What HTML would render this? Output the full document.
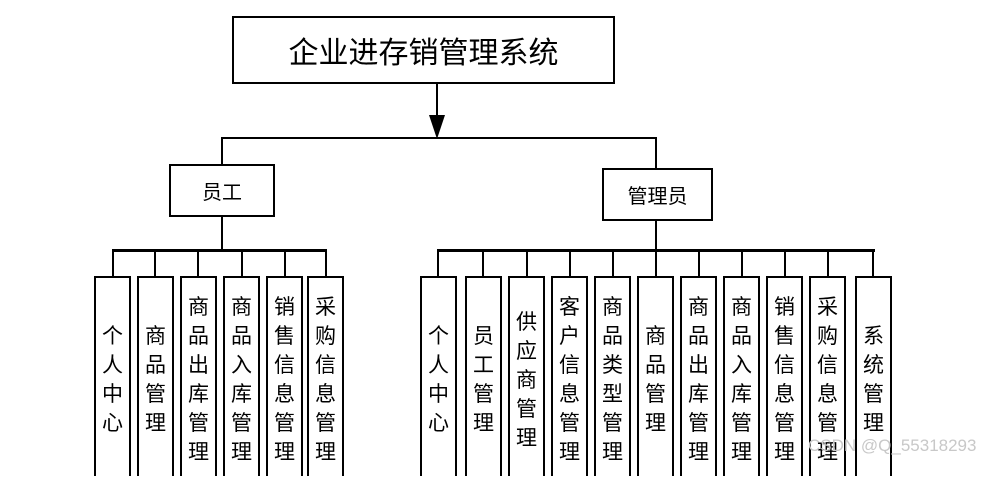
<!DOCTYPE html>
<html><head><meta charset="utf-8"><style>
body{margin:0;width:1003px;height:465px;background:#fff;overflow:hidden;position:relative;font-family:"Liberation Sans","Noto Sans CJK SC",sans-serif;color:#000}
.b{position:absolute;border:2px solid #000;box-sizing:border-box;background:#fff}
.l{position:absolute;background:#000}
.t{position:absolute;display:flex;align-items:center;justify-content:center}
.leaf{position:absolute;top:276px;height:200px;width:37px;border:2px solid #000;box-sizing:border-box;border-bottom:none}
.lt{position:absolute;left:0;width:100%;top:0;height:204px;display:flex;flex-direction:column;align-items:center;justify-content:center;font-size:21px;line-height:29px}
</style></head><body>
<div class="b t" style="left:232px;top:16px;width:383px;height:68px;font-size:30px">企业进存销管理系统</div>
<div class="l" style="left:436px;top:84px;width:2px;height:40px"></div>
<svg style="position:absolute;left:427px;top:115px" width="20" height="25"><polygon points="2,0 18,0 10,24" fill="#000"/></svg>
<div class="l" style="left:221px;top:137px;width:436px;height:2px"></div>
<div class="l" style="left:221px;top:137px;width:2px;height:28px"></div>
<div class="l" style="left:655px;top:137px;width:2px;height:32px"></div>
<div class="b t" style="left:169px;top:164px;width:106px;height:53px;font-size:20px">员工</div>
<div class="b t" style="left:602px;top:168px;width:111px;height:53px;font-size:20px">管理员</div>
<div class="l" style="left:221px;top:216px;width:2px;height:34px"></div>
<div class="l" style="left:655px;top:220px;width:2px;height:30px"></div>
<div class="l" style="left:112px;top:249px;width:215px;height:3px"></div>
<div class="l" style="left:437px;top:249px;width:438px;height:3px"></div>
<div id="leaves"></div>
<script>
var L=[[94,113,"个人中心"],[137,155,"商品管理"],[180,198,"商品出库管理"],[223,242,"商品入库管理"],[266,285,"销售信息管理"],[307,326,"采购信息管理"],
[420,438,"个人中心"],[465,483,"员工管理"],[508,527,"供应商管理"],[551,570,"客户信息管理"],[594,613,"商品类型管理"],[637,656,"商品管理"],[680,699,"商品出库管理"],[723,742,"商品入库管理"],[766,785,"销售信息管理"],[809,828,"采购信息管理"],[855,873,"系统管理"]];
var h="";
L.forEach(function(a){
h+='<div class="l" style="left:'+(a[1]-1)+'px;top:250px;width:2px;height:27px"></div>';
var s="";for(var i=0;i<a[2].length;i++)s+="<span>"+a[2][i]+"</span>";
h+='<div class="leaf" style="left:'+a[0]+'px"><div class="lt">'+s+'</div></div>';
});
document.getElementById("leaves").innerHTML=h;
</script>
<div style="position:absolute;left:808px;top:436px;font-size:17px;color:#c8c8c8">CSDN @Q_55318293</div>
</body></html>
